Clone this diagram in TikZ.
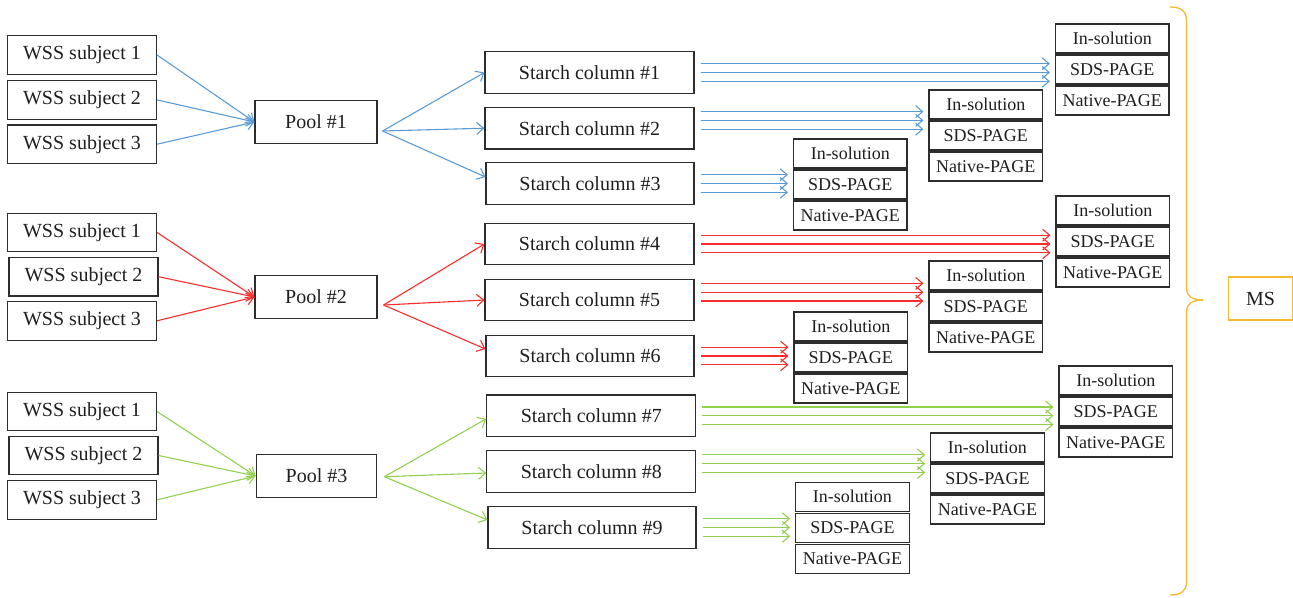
\documentclass[tikz,border=0pt]{standalone}
\usepackage{fontspec}
\setmainfont{Liberation Serif}
\usetikzlibrary{arrows.meta,calc}
\definecolor{cblue}{RGB}{91,155,213}
\definecolor{cred}{RGB}{250,45,45}
\definecolor{cgreen}{RGB}{146,208,80}
\definecolor{corange}{RGB}{245,185,50}
\definecolor{cborder}{RGB}{45,45,45}
\begin{document}
\begin{tikzpicture}[x=1pt,y=-1pt,
  box/.style={draw=cborder,line width=1.1pt,fill=white,inner sep=0pt,text=black!88,font=\fontsize{20}{24}\selectfont},
  wss/.style={box,minimum width=149pt,minimum height=38.5pt},
  pool/.style={box,minimum width=122pt,minimum height=42.5pt},
  col/.style={box,minimum width=209pt,minimum height=41.6pt},
  cell/.style={box,minimum width=113.5pt,minimum height=29pt,font=\fontsize{18}{22}\selectfont},
  ms/.style={draw=corange,line width=1.1pt,minimum width=64pt,minimum height=43pt,inner sep=0pt,text=black!88,font=\fontsize{20}{24}\selectfont},
  arr/.style={line width=1.1pt,-{Straight Barb[length=7pt,width=12pt]}},
  bracestyle/.style={draw=corange,line width=1.3pt}
]
\useasboundingbox (0,0) rectangle (1293,597);

% WSS subject boxes
\node[wss] (w11) at (82,55) {WSS subject 1};
\node[wss] (w12) at (82,99.9) {WSS subject 2};
\node[wss] (w13) at (82,144.2) {WSS subject 3};
\node[wss] (w21) at (82,232.5) {WSS subject 1};
\node[wss] (w22) at (83.5,276.7) {WSS subject 2};
\node[wss] (w23) at (82,320.8) {WSS subject 3};
\node[wss] (w31) at (82,411.5) {WSS subject 1};
\node[wss] (w32) at (83.5,455.5) {WSS subject 2};
\node[wss] (w33) at (82,499.8) {WSS subject 3};

% Pools
\node[pool] (p1) at (316,122) {Pool \#1};
\node[pool] (p2) at (316,297) {Pool \#2};
\node[pool,minimum width=120.7pt] (p3) at (316.5,476) {Pool \#3};

% Starch columns
\node[col] (c1) at (589.5,72.5) {Starch column \#1};
\node[col] (c2) at (589.5,128.2) {Starch column \#2};
\node[col,minimum width=208pt] (c3) at (590,183.5) {Starch column \#3};
\node[col] (c4) at (589.5,244) {Starch column \#4};
\node[col] (c5) at (589.5,300) {Starch column \#5};
\node[col,minimum width=208pt] (c6) at (590,356) {Starch column \#6};
\node[col] (c7) at (591.3,415.8) {Starch column \#7};
\node[col] (c8) at (591.3,471.5) {Starch column \#8};
\node[col,minimum width=208pt] (c9) at (592,527.5) {Starch column \#9};

% Stacks
\foreach \n/\x/\y in {1/1055.5/24, 2/929/90, 3/793.5/139, 4/1056/196, 5/929/261, 6/794/312, 7/1059/366, 8/930.7/433, 9/795.7/482.3} {
  \node[cell] (s\n-a) at (\x+56.75,\y+14.5) {In-solution};
  \node[cell] (s\n-b) at (\x+56.75,\y+45.5) {SDS-PAGE};
  \node[cell] (s\n-c) at (\x+56.75,\y+76.5) {Native-PAGE};
}

% WSS -> Pool
\foreach \g/\col in {1/cblue,2/cred,3/cgreen} {
  \foreach \k in {1,2,3} {
    \draw[arr,\col] (w\g\k.east) -- (p\g.west);
  }
}

% Pool -> columns
\coordinate (v1) at ($(p1.east)+(5,9)$);
\coordinate (v2) at ($(p2.east)+(6,8)$);
\coordinate (v3) at ($(p3.east)+(7,0.7)$);
\draw[arr,cblue] (v1) -- (c1.west);
\draw[arr,cblue] (v1) -- (c2.west);
\draw[arr,cblue] (v1) -- ($(c3.west)+(0,-6.5)$);
\draw[arr,cred] (v2) -- (c4.west);
\draw[arr,cred] (v2) -- (c5.west);
\draw[arr,cred] (v2) -- ($(c6.west)+(0,-7)$);
\draw[arr,cgreen] (v3) -- ($(c7.west)+(0,3)$);
\draw[arr,cgreen] (v3) -- ($(c8.west)+(0,1.5)$);
\draw[arr,cgreen] (v3) -- ($(c9.west)+(0,-7.5)$);

% Columns -> analysis stacks (three parallel arrows)
\foreach \c/\s/\o/\col in {c1/s1/0/cblue, c2/s2/-7.8/cblue, c3/s3/0/cblue,
                            c4/s4/0/cred, c5/s5/-7.8/cred, c6/s6/0/cred,
                            c7/s7/0/cgreen, c8/s8/-7.8/cgreen, c9/s9/0/cgreen} {
  \foreach \d in {-8.8,0,8.8} {
    \pgfmathsetmacro\yy{\o+\d}
    \coordinate (t) at ($(\c.east)+(6,\yy)$);
    \draw[arr,\col,shorten >=5pt] (t) -- (t -| \s-b.west);
  }
}

% Brace
\draw[bracestyle] (1170,7) .. controls (1181,7) and (1186.5,11) .. (1186.5,21) -- (1186.5,289)
  .. controls (1186.5,296) and (1192,300) .. (1203,300);
\draw[bracestyle] (1203,300) .. controls (1192,300) and (1186.5,304) .. (1186.5,311) -- (1186.5,582)
  .. controls (1186.5,591) and (1181,595) .. (1170,595);

% MS
\node[ms] (ms) at (1260.5,298.5) {MS};
\end{tikzpicture}
\end{document}
